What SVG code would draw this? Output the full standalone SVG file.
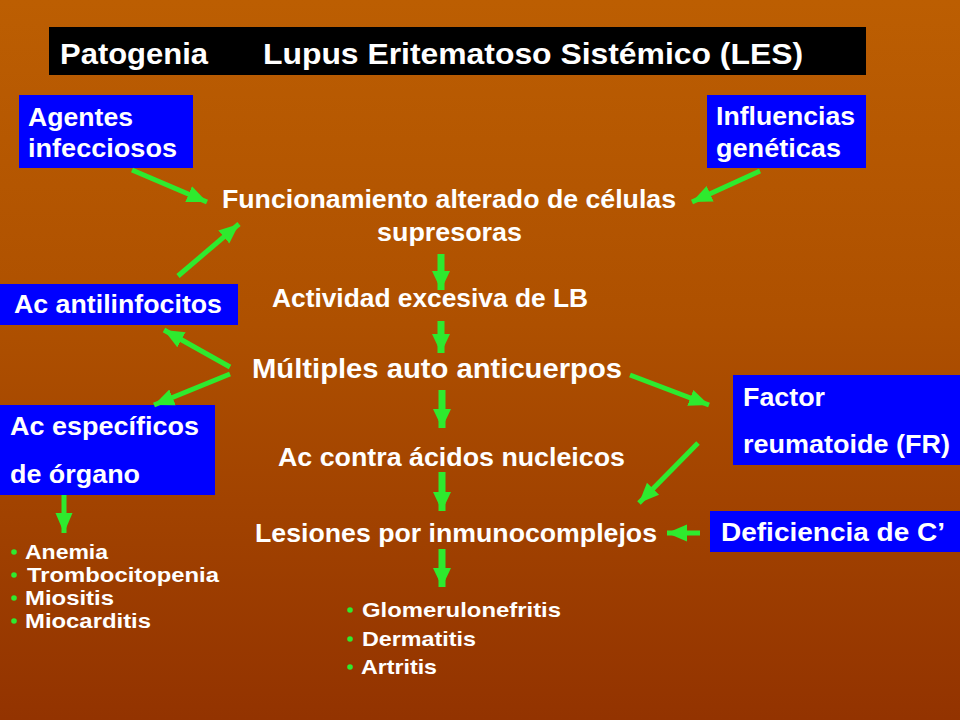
<svg xmlns="http://www.w3.org/2000/svg" width="960" height="720" viewBox="0 0 960 720">
<defs>
<linearGradient id="bg" x1="0" y1="0" x2="0" y2="1">
<stop offset="0" stop-color="#BC5E02"/>
<stop offset="0.45" stop-color="#AE5000"/>
<stop offset="1" stop-color="#933300"/>
</linearGradient>
<marker id="ah" markerUnits="userSpaceOnUse" markerWidth="22" markerHeight="22" viewBox="0 0 22 22" refX="20" refY="11" orient="auto">
<path d="M0,2.5 L20,11 L0,19.5 Z" fill="#2EEA2E"/>
</marker>
<marker id="av" markerUnits="userSpaceOnUse" markerWidth="22" markerHeight="22" viewBox="0 0 22 22" refX="19" refY="11" orient="auto">
<path d="M0,2 L19,11 L0,20 Z" fill="#2EEA2E"/>
</marker>
<style>
text{font-family:"Liberation Sans",Arial,sans-serif;font-weight:bold;fill:#FFFFFF}
.t{font-size:30px}
.b{font-size:25px}
.m{font-size:26px}
.l{font-size:20px}
.r{font-size:21px}
.box{fill:#0000FF}
.c line{stroke:#2EEA2E;stroke-width:5;marker-end:url(#ah)}
.c line.v{stroke-width:7;marker-end:url(#av)}
.dot{fill:#2EEA2E}
</style>
</defs>
<rect width="960" height="720" fill="url(#bg)"/>
<g id="title">
<rect x="49" y="27" width="817" height="48" fill="#000"/>
<text class="t" x="60" y="64" textLength="148" lengthAdjust="spacingAndGlyphs">Patogenia</text>
<text class="t" x="263" y="64" textLength="540" lengthAdjust="spacingAndGlyphs">Lupus Eritematoso Sistémico (LES)</text>
</g>
<g id="agentes">
<rect class="box" x="19" y="95" width="174" height="73"/>
<text class="b" x="28" y="126" textLength="105" lengthAdjust="spacingAndGlyphs">Agentes</text>
<text class="b" x="28" y="157" textLength="149" lengthAdjust="spacingAndGlyphs">infecciosos</text>
</g>
<g id="influencias">
<rect class="box" x="707" y="95" width="159" height="73"/>
<text class="b" x="716" y="125" textLength="139" lengthAdjust="spacingAndGlyphs">Influencias</text>
<text class="b" x="716" y="157" textLength="125" lengthAdjust="spacingAndGlyphs">genéticas</text>
</g>
<g id="funcionamiento">
<text class="m" x="222" y="208" textLength="454" lengthAdjust="spacingAndGlyphs">Funcionamiento alterado de células</text>
<text class="m" x="377" y="241" textLength="145" lengthAdjust="spacingAndGlyphs">supresoras</text>
</g>
<g id="antilinfocitos">
<rect class="box" x="0" y="284" width="238" height="41"/>
<text class="b" x="14" y="313" textLength="208" lengthAdjust="spacingAndGlyphs">Ac antilinfocitos</text>
</g>
<g id="actividad">
<text class="m" x="272" y="307" textLength="316" lengthAdjust="spacingAndGlyphs">Actividad excesiva de LB</text>
</g>
<g id="multiples">
<text class="m" x="252" y="378" style="font-size:28px" textLength="370" lengthAdjust="spacingAndGlyphs">Múltiples auto anticuerpos</text>
</g>
<g id="factor">
<rect class="box" x="733" y="375" width="227" height="90"/>
<text class="b" x="743" y="406" textLength="82" lengthAdjust="spacingAndGlyphs">Factor</text>
<text class="b" x="743" y="453" textLength="207" lengthAdjust="spacingAndGlyphs">reumatoide (FR)</text>
</g>
<g id="especificos">
<rect class="box" x="0" y="405" width="215" height="90"/>
<text class="b" x="10" y="435" textLength="189" lengthAdjust="spacingAndGlyphs">Ac específicos</text>
<text class="b" x="10" y="483" textLength="130" lengthAdjust="spacingAndGlyphs">de órgano</text>
</g>
<g id="acidos">
<text class="m" x="278" y="466" textLength="347" lengthAdjust="spacingAndGlyphs">Ac contra ácidos nucleicos</text>
</g>
<g id="lesiones">
<text class="m" x="255" y="542" textLength="402" lengthAdjust="spacingAndGlyphs">Lesiones por inmunocomplejos</text>
</g>
<g id="deficiencia">
<rect class="box" x="710" y="511" width="250" height="41"/>
<text class="b" x="721" y="541" textLength="224" lengthAdjust="spacingAndGlyphs">Deficiencia de C’</text>
</g>
<g id="organ-list">
<circle class="dot" cx="14" cy="552" r="2.8"/>
<circle class="dot" cx="14" cy="575" r="2.8"/>
<circle class="dot" cx="14" cy="598" r="2.8"/>
<circle class="dot" cx="14" cy="621" r="2.8"/>
<text class="l" x="25" y="559" textLength="83" lengthAdjust="spacingAndGlyphs">Anemia</text>
<text class="l" x="27" y="582" textLength="192" lengthAdjust="spacingAndGlyphs">Trombocitopenia</text>
<text class="l" x="25" y="605" textLength="89" lengthAdjust="spacingAndGlyphs">Miositis</text>
<text class="l" x="25" y="628" textLength="126" lengthAdjust="spacingAndGlyphs">Miocarditis</text>
</g>
<g id="lesion-list">
<circle class="dot" cx="350" cy="610" r="2.8"/>
<circle class="dot" cx="350" cy="639" r="2.8"/>
<circle class="dot" cx="350" cy="667" r="2.8"/>
<text class="r" x="362" y="617" textLength="199" lengthAdjust="spacingAndGlyphs">Glomerulonefritis</text>
<text class="r" x="362" y="646" textLength="114" lengthAdjust="spacingAndGlyphs">Dermatitis</text>
<text class="r" x="361" y="674" textLength="76" lengthAdjust="spacingAndGlyphs">Artritis</text>
</g>
<g id="connectors" class="c">
<line x1="132" y1="170" x2="207" y2="202"/>
<line x1="760" y1="171" x2="692" y2="202"/>
<line x1="178" y1="276" x2="239" y2="224"/>
<line class="v" x1="441" y1="254" x2="441" y2="290"/>
<line class="v" x1="441" y1="321" x2="441" y2="353"/>
<line x1="230" y1="367" x2="164" y2="330"/>
<line x1="230" y1="374" x2="154" y2="405"/>
<line x1="630" y1="375" x2="709" y2="405"/>
<line class="v" x1="442" y1="390" x2="442" y2="428"/>
<line x1="698" y1="443" x2="639" y2="503"/>
<line class="v" x1="442" y1="472" x2="442" y2="511"/>
<line x1="700" y1="533" x2="667" y2="533"/>
<line class="v" x1="442" y1="549" x2="442" y2="587"/>
<line x1="64" y1="495" x2="64" y2="533"/>
</g>
</svg>
